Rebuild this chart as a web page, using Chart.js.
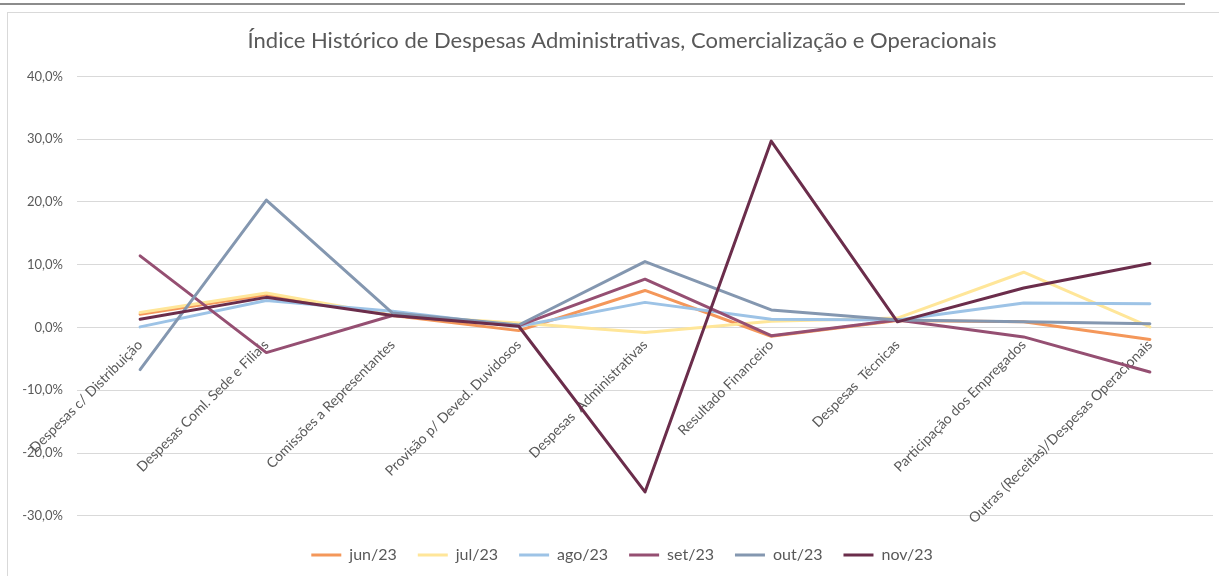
<!DOCTYPE html>
<html>
<head>
<meta charset="utf-8">
<script src="https://cdn.jsdelivr.net/npm/chart.js@4.4.0/dist/chart.umd.min.js"></script>
<style>
  body { margin: 0; background: #fff; overflow: hidden; }
  #topLine { position: absolute; left: 0; top: 3px; width: 1185px; height: 0; border-top: 2px solid #8c8c8c; }
  #box { position: absolute; left: 7px; top: 12px; width: 1240px; height: 600px; border: 1px solid #d9d9d9; }
  #chart { position: absolute; left: 0; top: 0; }
</style>
</head>
<body>
<div id="topLine"></div>
<div id="box"></div>
<canvas id="chart" width="1219" height="576"></canvas>
<script>
const categories = [
    'Despesas c/ Distribuição',
    'Despesas Coml. Sede e Filiais',
    'Comissões a Representantes',
    'Provisão p/ Deved. Duvidosos',
    'Despesas  Administrativas',
    'Resultado Financeiro',
    'Despesas  Técnicas',
    'Participação dos Empregados',
    'Outras (Receitas)/Despesas Operacionais'
];

// valores em %
const jun23 = [2.1, 5.2, 1.9, -0.5, 5.9, -1.4, 1.1, 0.9, -1.9];
const jul23 = [2.4, 5.5, 1.9, 0.7, -0.8, 1.0, 1.5, 8.8, 0.1];
const ago23 = [0.1, 4.3, 2.6, 0.2, 4.0, 1.3, 1.2, 3.9, 3.8];
const set23 = [11.4, -4.0, 1.9, 0.3, 7.7, -1.3, 1.2, -1.5, -7.1];
const out23 = [-6.7, 20.3, 2.3, 0.4, 10.5, 2.8, 1.2, 0.9, 0.6];
const nov23 = [1.3, 4.8, 1.9, 0.2, -26.2, 29.7, 0.9, 6.3, 10.2];

const seriesNames = ['jun/23', 'jul/23', 'ago/23', 'set/23', 'out/23', 'nov/23'];
const seriesValues = [jun23, jul23, ago23, set23, out23, nov23];
const seriesColors = ['#F4975A', '#FFE699', '#9DC3E6', '#954F72', '#8497B0', '#6B2D4B'];

const textColor = '#595959';
const fontFamily = 'Lato, "Open Sans", sans-serif';

const datasets = seriesNames.map((name, i) => ({
    label: name,
    data: seriesValues[i],
    borderColor: seriesColors[i],
    backgroundColor: seriesColors[i],
    borderWidth: 3,
    borderJoinStyle: 'round',
    borderCapStyle: 'round',
    pointRadius: 0,
    pointStyle: 'line',
    tension: 0,
    order: seriesNames.length - i // nov por cima
}));

// deixa os rótulos do eixo y saírem para a esquerda sem corte
const yLabelRoom = {
    id: 'yLabelRoom',
    afterLayout(chart) { chart.scales.y.left = 0; }
};

const config = {
    type: 'line',
    data: { labels: categories, datasets },
    plugins: [yLabelRoom],
    options: {
        responsive: false,
        animation: false,
        layout: { padding: { left: 31, right: 6, top: 0, bottom: 3 } },
        plugins: {
            title: {
                display: true,
                text: 'Índice Histórico de Despesas Administrativas, Comercialização e Operacionais',
                color: textColor,
                font: { family: fontFamily, size: 22, weight: 'normal' },
                padding: { top: 28, bottom: 22 }
            },
            legend: {
                position: 'bottom',
                title: { display: true, text: ' ', font: { size: 1 }, padding: { top: 0, bottom: 9 } },
                labels: {
                    usePointStyle: true,
                    pointStyleWidth: 30,
                    boxHeight: 16,
                    padding: 21,
                    color: textColor,
                    font: { family: fontFamily, size: 16 },
                    sort: (a, b) => a.datasetIndex - b.datasetIndex
                }
            },
            tooltip: { enabled: false }
        },
        scales: {
            x: {
                type: 'category',
                offset: true,
                position: { y: 0 },
                grid: { display: false, drawTicks: false },
                border: { display: false },
                ticks: {
                    autoSkip: false,
                    minRotation: 45,
                    maxRotation: 45,
                    padding: 9,
                    color: textColor,
                    font: { family: fontFamily, size: 14 }
                },
                afterFit(scale) { scale.height = 0; }
            },
            y: {
                min: -30,
                max: 40,
                grid: { color: '#d9d9d9', lineWidth: 1, drawTicks: false },
                border: { display: false },
                ticks: {
                    stepSize: 10,
                    padding: 14,
                    color: textColor,
                    font: { family: fontFamily, size: 13 },
                    callback: v => v.toFixed(1).replace('.', ',') + '%'
                },
                afterFit(scale) { scale.width = 46; }
            }
        }
    }
};

const ctx = document.getElementById('chart').getContext('2d');
new Chart(ctx, config);
</script>
</body>
</html>
